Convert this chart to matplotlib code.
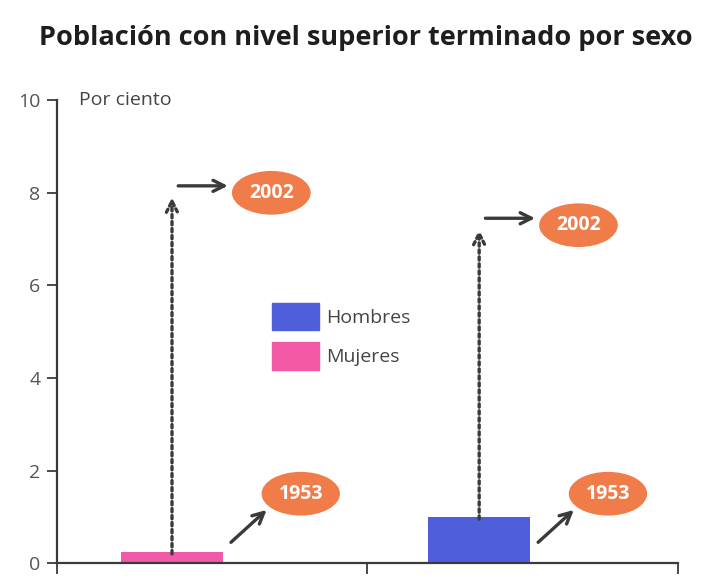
import matplotlib
matplotlib.use("Agg")
import matplotlib.pyplot as plt
from matplotlib.patches import Patch

plt.rcParams["font.family"] = ["Open Sans", "DejaVu Sans"]

# Datos (por ciento)
categorias = ["Mujeres", "Hombres"]
valores_1953 = [0.25, 1.0]
valores_2002 = [8.0, 7.3]
colores = ["#f25aa8", "#4f5fdc"]
anio_ini = "1953"
anio_fin = "2002"

pos_x = [0.37, 1.36]
ancho = 0.33
naranja = "#f07c4a"
gris = "#3a3a3a"
y_etiqueta_1953 = 1.5

fig = plt.figure(figsize=(7.06, 5.86), dpi=100)
ax = fig.add_axes([0.081, 0.039, 0.879, 0.79])

ax.bar(pos_x, valores_1953, width=ancho, color=colores, zorder=2)

elipse = dict(boxstyle="ellipse,pad=0.28", fc=naranja, ec="none")
flecha = dict(arrowstyle="->", lw=2.4, color=gris, mutation_scale=20,
              shrinkA=0, shrinkB=0)

for x, v0, v1 in zip(pos_x, valores_1953, valores_2002):
    # linea punteada vertical con punta abierta
    ax.annotate("", xy=(x, v1 - 0.1), xytext=(x, v0 - 0.05),
                arrowprops=dict(arrowstyle="->", linestyle=(0, (1, 1.1)),
                                lw=2.4, color=gris, mutation_scale=20,
                                shrinkA=0, shrinkB=0))
    # flecha horizontal y elipse 2002
    ax.annotate("", xy=(x + 0.18, v1 + 0.15), xytext=(x + 0.02, v1 + 0.15),
                arrowprops=flecha)
    ax.text(x + 0.32, v1, anio_fin, ha="center", va="center", color="white",
            fontsize=14, fontweight="bold", bbox=elipse)
    # flecha diagonal y elipse 1953
    borde = x + ancho / 2
    ax.annotate("", xy=(borde + 0.14, 1.15), xytext=(borde + 0.025, 0.45),
                arrowprops=flecha)
    ax.text(borde + 0.25, y_etiqueta_1953, anio_ini, ha="center", va="center",
            color="white", fontsize=14, fontweight="bold", bbox=elipse)

ax.set_xlim(0, 2)
ax.set_ylim(0, 10)
ax.set_yticks([0, 2, 4, 6, 8, 10])
ax.set_xticks([0, 1, 2])
ax.set_xticklabels([])
for s in ["top", "right"]:
    ax.spines[s].set_visible(False)
for s in ["left", "bottom"]:
    ax.spines[s].set_color(gris)
    ax.spines[s].set_linewidth(1.6)
ax.tick_params(axis="y", labelsize=14, labelcolor="#555555", colors=gris,
               length=7, width=1.3, pad=5)
ax.tick_params(axis="x", length=8, width=1.3, colors=gris)

ax.text(0.07, 10, "Por ciento", fontsize=14, color="#444444", va="center", ha="left")

leg = ax.legend(handles=[Patch(color=colores[1], label=categorias[1]),
                         Patch(color=colores[0], label=categorias[0])],
                loc="upper left", bbox_to_anchor=(0.346, 0.562), frameon=False,
                fontsize=14, handlelength=2.4, handleheight=1.8,
                labelspacing=0.6, handletextpad=0.4, borderpad=0,
                borderaxespad=0)
for t in leg.get_texts():
    t.set_color("#444444")

fig.text(0.518, 0.935, "Población con nivel superior terminado por sexo",
         ha="center", va="center", fontsize=19.5, fontweight="bold",
         color="#1e1e1e")

fig.savefig("out.png", dpi=100)
